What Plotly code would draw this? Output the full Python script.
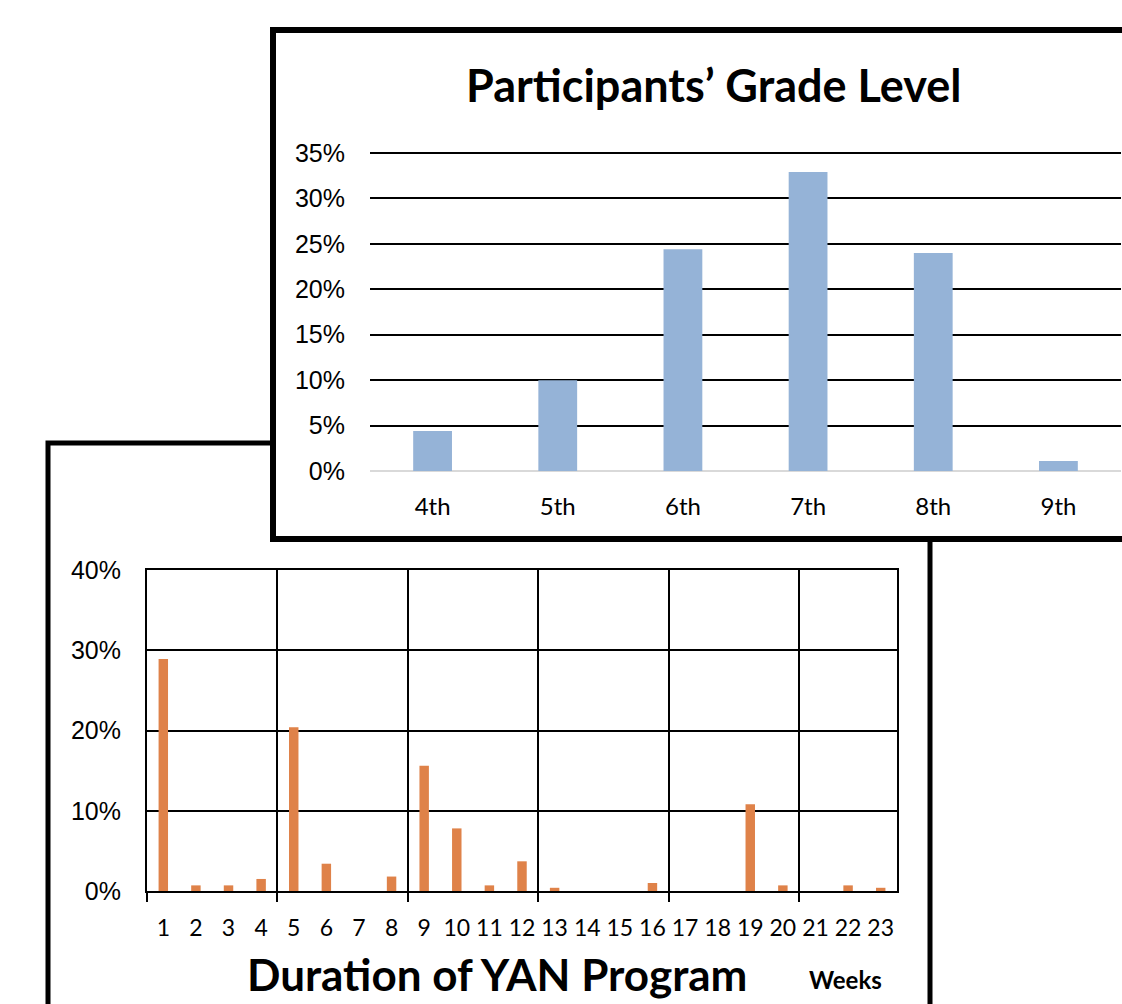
import plotly.graph_objects as go

# Grade level distribution of participants (percent)
grades = ["4th", "5th", "6th", "7th", "8th", "9th"]
grade_pct = [4.4, 10.0, 24.4, 32.9, 24.0, 1.1]

# Program duration distribution (percent of participants per week count)
weeks = list(range(1, 24))
duration_pct = [28.9, 0.7, 0.7, 1.5, 20.4, 3.4, 0.0, 1.8, 15.6, 7.8, 0.7, 3.7,
                0.4, 0.0, 0.0, 1.0, 0.0, 0.0, 10.8, 0.7, 0.0, 0.7, 0.4]

W, H = 1122, 1004
BLUE = "#95B3D7"
ORANGE = "#DF8249"
TEXT_FONT = "Lato"
NUM_FONT = "Liberation Sans"


def px(x):
    return x / W


def py(y):
    return 1 - y / H


fig = go.Figure()

fig.add_trace(go.Bar(
    x=grades, y=grade_pct, width=0.31,
    marker=dict(color=BLUE, line=dict(width=0)),
    xaxis="x", yaxis="y", showlegend=False,
))

fig.add_trace(go.Bar(
    x=weeks, y=duration_pct, width=0.29,
    marker=dict(color=ORANGE, line=dict(width=0)),
    xaxis="x2", yaxis="y2", showlegend=False,
))

fig.update_layout(
    width=W, height=H, autosize=False,
    margin=dict(l=0, r=0, t=0, b=0, autoexpand=False),
    paper_bgcolor="white", plot_bgcolor="rgba(0,0,0,0)",
    # Grade level chart (range padded slightly so the 35% gridline is kept)
    xaxis=dict(
        domain=[px(370), px(1121)], type="category", automargin=False,
        showgrid=False, showline=False, zeroline=False, ticks="",
        tickfont=dict(family=TEXT_FONT, size=24, color="black"),
        ticklabelstandoff=19, fixedrange=True,
    ),
    yaxis=dict(
        domain=[py(471), py(149.4)], range=[0, 35.4],
        tickmode="linear", tick0=0, dtick=5,
        automargin=False,
        ticksuffix="%", showgrid=True, gridcolor="black", gridwidth=2,
        zeroline=True, zerolinecolor="#D9D9D9", zerolinewidth=2,
        showline=False, ticks="",
        tickfont=dict(family=NUM_FONT, size=25, color="black"),
        ticklabelstandoff=24, fixedrange=True,
    ),
    # Program duration chart
    xaxis2=dict(
        domain=[px(147), px(897)], anchor="y2", range=[0.5, 23.5],
        automargin=False,
        tickmode="array", tickvals=weeks, ticktext=[str(w) for w in weeks],
        showgrid=False, zeroline=False, ticks="",
        showline=True, linecolor="black", linewidth=2, mirror=True,
        minor=dict(tickvals=[0.5, 4.5, 8.5, 12.5, 16.5, 20.5],
                   showgrid=True, gridcolor="black", gridwidth=2,
                   ticks="outside", ticklen=9, tickwidth=2, tickcolor="black"),
        tickfont=dict(family=TEXT_FONT, size=23, color="black"),
        ticklabelstandoff=15, fixedrange=True,
    ),
    yaxis2=dict(
        domain=[py(891), py(570)], anchor="x2", range=[0, 40],
        tickmode="linear", tick0=0, dtick=10,
        automargin=False,
        ticksuffix="%", showgrid=True, gridcolor="black", gridwidth=2,
        zeroline=False, showline=True, linecolor="black", linewidth=2, mirror=True,
        ticks="",
        tickfont=dict(family=NUM_FONT, size=25, color="black"),
        ticklabelstandoff=19, fixedrange=True,
    ),
    shapes=[
        # frame behind the duration chart
        dict(type="rect", xref="paper", yref="paper", layer="below",
             x0=px(48), x1=px(930), y0=py(1030), y1=py(443),
             line=dict(color="black", width=5), fillcolor="white"),
        # frame of the grade level chart, stacked on top
        dict(type="rect", xref="paper", yref="paper", layer="below",
             x0=px(273), x1=px(1140), y0=py(539), y1=py(30),
             line=dict(color="black", width=6), fillcolor="white"),
    ],
    annotations=[
        dict(text="<b>Participants’ Grade Level</b>", xref="paper", yref="paper",
             x=px(713), y=py(85), xanchor="center", yanchor="middle",
             showarrow=False, font=dict(family=TEXT_FONT, size=45, color="black")),
        dict(text="<b>Duration of YAN Program</b>", xref="paper", yref="paper",
             x=px(497), y=py(974), xanchor="center", yanchor="middle",
             showarrow=False, font=dict(family=TEXT_FONT, size=44, color="black")),
        dict(text="<b>Weeks</b>", xref="paper", yref="paper",
             x=px(845), y=py(979), xanchor="center", yanchor="middle",
             showarrow=False, font=dict(family=TEXT_FONT, size=24, color="black")),
    ],
)

fig.write_html("out.html", config={"displayModeBar": False})
